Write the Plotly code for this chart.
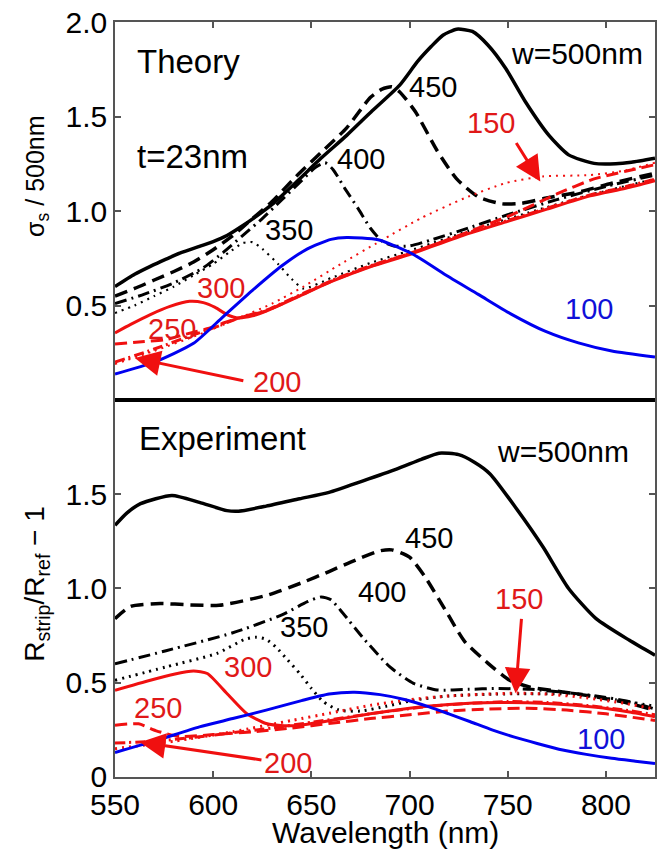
import plotly.graph_objects as go

# ---------------- Theory (top panel) ----------------
wl_t500 = [550, 560, 568, 576, 583, 593, 600, 607, 614, 621, 630, 642, 655, 668, 681, 695, 704, 711, 717, 724, 732, 740, 749, 759, 771, 781, 794, 805, 813, 825]
t500 = [0.60, 0.665, 0.707, 0.745, 0.777, 0.813, 0.838, 0.870, 0.915, 0.965, 1.035, 1.15, 1.28, 1.40, 1.53, 1.666, 1.79, 1.87, 1.93, 1.962, 1.950, 1.877, 1.754, 1.578, 1.40, 1.297, 1.252, 1.25, 1.258, 1.279]

wl_t450 = [550, 560, 570, 580, 590, 600, 610, 620, 630, 642, 655, 668, 680, 686, 691, 695, 703, 714, 724, 735, 747, 757, 769, 786, 803, 825]
t450 = [0.55, 0.59, 0.635, 0.68, 0.73, 0.795, 0.87, 0.96, 1.05, 1.18, 1.31, 1.44, 1.60, 1.645, 1.657, 1.63, 1.525, 1.32, 1.17, 1.075, 1.038, 1.041, 1.067, 1.10, 1.147, 1.20]

wl_t400 = [550, 565, 580, 595, 605, 615, 625, 635, 645, 652, 657, 661, 667, 674, 680, 686, 692, 700, 712, 730, 750, 775, 800, 825]
t400 = [0.51, 0.56, 0.62, 0.70, 0.78, 0.87, 0.96, 1.06, 1.16, 1.23, 1.255, 1.22, 1.12, 1.01, 0.91, 0.84, 0.815, 0.815, 0.85, 0.91, 0.98, 1.06, 1.13, 1.19]

wl_t350 = [550, 560, 570, 580, 590, 600, 608, 615, 620, 625, 633, 640, 646, 660, 680, 700, 730, 760, 790, 825]
t350 = [0.46, 0.50, 0.55, 0.60, 0.66, 0.72, 0.78, 0.83, 0.835, 0.80, 0.72, 0.64, 0.59, 0.645, 0.725, 0.79, 0.895, 0.99, 1.08, 1.17]

wl_t300 = [550, 558, 568, 578, 588, 595, 601, 607, 613, 620, 627, 644, 661, 680, 700, 727, 750, 770, 792, 810, 825]
t300 = [0.355, 0.40, 0.452, 0.495, 0.522, 0.515, 0.49, 0.452, 0.434, 0.445, 0.47, 0.55, 0.63, 0.705, 0.77, 0.87, 0.945, 1.01, 1.08, 1.12, 1.16]

wl_t250 = [550, 565, 576, 586, 598, 606, 613, 627, 644, 661, 680, 700, 725, 752, 775, 794, 810, 825]
t250 = [0.296, 0.31, 0.32, 0.348, 0.38, 0.41, 0.434, 0.472, 0.552, 0.632, 0.707, 0.775, 0.87, 0.98, 1.09, 1.17, 1.21, 1.245]

wl_t200 = [550, 570, 590, 605, 613, 627, 644, 661, 680, 700, 727, 750, 770, 792, 810, 825]
t200 = [0.20, 0.27, 0.345, 0.40, 0.434, 0.475, 0.555, 0.635, 0.71, 0.775, 0.875, 0.95, 1.015, 1.085, 1.128, 1.168]

wl_t150 = [550, 570, 590, 610, 630, 646, 665, 685, 706, 728, 749, 768, 792, 810, 825]
t150 = [0.19, 0.26, 0.335, 0.42, 0.51, 0.60, 0.72, 0.84, 0.963, 1.068, 1.148, 1.183, 1.19, 1.215, 1.255]

wl_t100 = [550, 570, 590, 605, 620, 635, 648, 660, 668, 684, 702, 718, 735, 752, 769, 786, 803, 825]
t100 = [0.137, 0.20, 0.30, 0.44, 0.58, 0.71, 0.80, 0.85, 0.86, 0.848, 0.77, 0.664, 0.559, 0.453, 0.364, 0.302, 0.259, 0.227]

# ---------------- Experiment (bottom panel) ----------------
wl_e500 = [550, 556, 563, 579, 593, 607, 613, 627, 644, 659, 676, 693, 706, 715, 725, 733, 741, 754, 768, 781, 795, 812, 825]
e500 = [1.335, 1.40, 1.45, 1.494, 1.457, 1.413, 1.41, 1.437, 1.476, 1.51, 1.57, 1.632, 1.685, 1.718, 1.71, 1.67, 1.608, 1.43, 1.22, 1.0, 0.84, 0.725, 0.646]

wl_e450 = [550, 558, 573, 588, 603, 627, 645, 659, 670, 685, 691, 700, 708, 718, 728, 740, 751, 761, 778, 795, 812, 825]
e450 = [0.84, 0.905, 0.92, 0.913, 0.911, 0.963, 1.03, 1.09, 1.14, 1.20, 1.205, 1.166, 1.06, 0.89, 0.72, 0.603, 0.513, 0.478, 0.451, 0.425, 0.39, 0.354]

wl_e400 = [550, 576, 610, 635, 648, 655, 660, 666, 676, 690, 702, 714, 730, 744, 762, 778, 795, 812, 825]
e400 = [0.60, 0.67, 0.765, 0.86, 0.93, 0.955, 0.94, 0.87, 0.742, 0.584, 0.497, 0.462, 0.465, 0.47, 0.465, 0.45, 0.43, 0.40, 0.36]

wl_e350 = [550, 576, 602, 616, 622, 627, 632, 638, 644, 650, 656, 664, 675, 688, 702, 720, 744, 780, 805, 825]
e350 = [0.513, 0.584, 0.656, 0.73, 0.742, 0.73, 0.689, 0.62, 0.55, 0.47, 0.40, 0.355, 0.35, 0.375, 0.407, 0.43, 0.44, 0.44, 0.41, 0.375]

wl_e300 = [550, 568, 580, 590, 597, 607, 617, 627, 636, 644, 660, 680, 700, 720, 745, 770, 795, 812, 825]
e300 = [0.46, 0.513, 0.545, 0.562, 0.549, 0.443, 0.337, 0.284, 0.272, 0.275, 0.30, 0.335, 0.365, 0.385, 0.395, 0.39, 0.37, 0.345, 0.32]

wl_e250 = [550, 562, 571, 583, 600, 620, 640, 660, 680, 700, 720, 740, 760, 780, 800, 825]
e250 = [0.275, 0.282, 0.245, 0.215, 0.225, 0.24, 0.26, 0.285, 0.31, 0.33, 0.35, 0.36, 0.365, 0.355, 0.335, 0.30]

wl_e200 = [550, 570, 590, 610, 630, 650, 670, 690, 710, 730, 750, 770, 790, 810, 825]
e200 = [0.18, 0.19, 0.21, 0.235, 0.26, 0.29, 0.32, 0.35, 0.375, 0.39, 0.40, 0.395, 0.38, 0.355, 0.33]

wl_e150 = [550, 580, 610, 640, 660, 680, 700, 720, 740, 755, 770, 790, 810, 825]
e150 = [0.15, 0.19, 0.24, 0.30, 0.34, 0.38, 0.41, 0.43, 0.44, 0.445, 0.44, 0.42, 0.39, 0.36]

wl_e100 = [550, 570, 593, 610, 627, 645, 659, 672, 685, 698, 710, 720, 731, 742, 753, 765, 778, 790, 803, 815, 825]
e100 = [0.13, 0.19, 0.266, 0.31, 0.355, 0.405, 0.44, 0.45, 0.437, 0.41, 0.372, 0.335, 0.293, 0.25, 0.213, 0.178, 0.143, 0.12, 0.099, 0.084, 0.072]

x_ticks = [550, 600, 650, 700, 750, 800]
top_ticks = [0.5, 1.0, 1.5, 2.0]
top_tick_text = ["0.5", "1.0", "1.5", "2.0"]
bot_ticks = [0, 0.5, 1.0, 1.5]
bot_tick_text = ["0", "0.5", "1.0", "1.5"]

BLACK = "#000000"
RED = "#f01010"
BLUE = "#0000f0"
RED_TXT = "#e01818"
BLUE_TXT = "#1010d8"
FONT = "Liberation Sans, Arial, Helvetica, sans-serif"
AXC = "#555555"

DASHED = "13px,7px"
DASHDOT = "12px,5px,2px,5px"
DOTTED = "2px,5px"
RDASH = "12px,6px"
RDASHDOT = "10px,4px,2px,4px"

fig = go.Figure()


def curve(x, y, panel, color, width, dash="solid"):
    xa, ya = ("x2", "y2") if panel == "top" else ("x", "y")
    fig.add_trace(go.Scatter(
        x=x, y=y, mode="lines", xaxis=xa, yaxis=ya, showlegend=False,
        hoverinfo="skip",
        line=dict(color=color, width=width, dash=dash, shape="spline", smoothing=0.6),
    ))


# top panel curves
curve(wl_t500, t500, "top", BLACK, 3.5)
curve(wl_t450, t450, "top", BLACK, 3.5, DASHED)
curve(wl_t400, t400, "top", BLACK, 3, DASHDOT)
curve(wl_t350, t350, "top", BLACK, 2.2, DOTTED)
curve(wl_t150, t150, "top", RED, 2, DOTTED)
curve(wl_t200, t200, "top", RED, 3, RDASHDOT)
curve(wl_t250, t250, "top", RED, 3, RDASH)
curve(wl_t300, t300, "top", RED, 3)
curve(wl_t100, t100, "top", BLUE, 3)

# bottom panel curves
curve(wl_e500, e500, "bot", BLACK, 3.5)
curve(wl_e450, e450, "bot", BLACK, 3.5, DASHED)
curve(wl_e400, e400, "bot", BLACK, 3, DASHDOT)
curve(wl_e350, e350, "bot", BLACK, 3, DOTTED)
curve(wl_e150, e150, "bot", RED, 3, DOTTED)
curve(wl_e200, e200, "bot", RED, 3, RDASHDOT)
curve(wl_e250, e250, "bot", RED, 3, RDASH)
curve(wl_e300, e300, "bot", RED, 3)
curve(wl_e100, e100, "bot", BLUE, 3)

SPLIT = (777 - 399) / 757.0

axis_common = dict(
    showgrid=False, zeroline=False, ticks="inside", ticklen=6, tickwidth=1.5,
    tickcolor=AXC, showline=True, linecolor=AXC, linewidth=1.5,
)

fig.update_layout(
    width=662, height=851,
    margin=dict(l=115, r=5, t=20, b=74),
    paper_bgcolor="white", plot_bgcolor="white",
    font=dict(family=FONT, color="black", size=30),
    xaxis=dict(axis_common, domain=[0, 1], anchor="y", range=[550, 825],
               tickvals=x_ticks, tickfont=dict(size=30), mirror=False),
    xaxis2=dict(axis_common, domain=[0, 1], anchor="y2", range=[550, 825],
                matches="x", side="top", tickvals=x_ticks, showticklabels=False,
                mirror=False),
    yaxis=dict(axis_common, domain=[0, SPLIT], anchor="x", range=[0, 2],
               tickvals=bot_ticks, ticktext=bot_tick_text, mirror="ticks",
               tickfont=dict(size=30)),
    yaxis2=dict(axis_common, domain=[SPLIT, 1], anchor="x2", range=[0, 2],
                tickvals=top_ticks, ticktext=top_tick_text, mirror="ticks",
                tickfont=dict(size=30)),
    showlegend=False,
)

# thick divider between the two panels
fig.add_shape(type="line", xref="paper", yref="paper", x0=0, x1=1,
              y0=SPLIT, y1=SPLIT, line=dict(color="black", width=4))


def label(text, x, y, panel, color=BLACK, size=29, xanchor="center"):
    fig.add_annotation(text=text, x=x, y=y, xref="x2" if panel == "top" else "x",
                       yref="y2" if panel == "top" else "y", showarrow=False,
                       font=dict(size=size, color=color, family=FONT),
                       xanchor=xanchor, yanchor="middle")


def arrow(x, y, ax, ay, panel):
    fig.add_annotation(text="", x=x, y=y, ax=ax, ay=ay,
                       xref="x2" if panel == "top" else "x",
                       yref="y2" if panel == "top" else "y",
                       showarrow=True, arrowhead=2, arrowsize=1.7,
                       arrowwidth=3, arrowcolor=RED)


# top panel text
label("Theory", 560, 1.79, "top", size=33, xanchor="left")
label("t=23nm", 560, 1.288, "top", size=33, xanchor="left")
label("w=500nm", 820, 1.834, "top", size=30, xanchor="right")
label("450", 711.8, 1.657, "top")
label("400", 675.3, 1.277, "top")
label("350", 638.8, 0.902, "top")
label("150", 741.3, 1.467, "top", RED_TXT)
label("300", 603.8, 0.591, "top", RED_TXT)
label("250", 578.9, 0.375, "top", RED_TXT)
label("200", 632.7, 0.095, "top", RED_TXT)
label("100", 791.5, 0.48, "top", BLUE_TXT)
arrow(560.1, 0.222, 110, 23, "top")
arrow(766.6, 1.156, -25, -40, "top")

# bottom panel text
label("Experiment", 561.2, 1.794, "bot", size=33, xanchor="left")
label("w=500nm", 812.8, 1.725, "bot", size=30, xanchor="right")
label("450", 709.8, 1.27, "bot")
label("400", 686, 0.979, "bot")
label("350", 646.4, 0.794, "bot")
label("150", 755.5, 0.942, "bot", RED_TXT)
label("300", 617.5, 0.582, "bot", RED_TXT)
label("250", 571.8, 0.365, "bot", RED_TXT)
label("200", 638.3, 0.074, "bot", RED_TXT)
label("100", 797.6, 0.201, "bot", BLUE_TXT)
arrow(562.7, 0.185, 123, 18, "bot")
arrow(754, 0.444, 6, -76, "bot")

# axis titles
fig.add_annotation(text="Wavelength (nm)", xref="paper", yref="paper",
                   x=0.501, y=(777 - 833) / 757.0, showarrow=False,
                   font=dict(size=30, family=FONT), xanchor="center", yanchor="middle")
fig.add_annotation(text="σ<sub>s</sub> / 500nm", xref="paper", yref="paper",
                   x=(36 - 115) / 542.0, y=(777 - 175) / 757.0, textangle=-90,
                   showarrow=False, font=dict(size=25, family=FONT),
                   xanchor="center", yanchor="middle")
fig.add_annotation(text="R<sub>strip</sub>/R<sub>ref</sub> − 1", xref="paper", yref="paper",
                   x=(36 - 115) / 542.0, y=(777 - 583) / 757.0, textangle=-90,
                   showarrow=False, font=dict(size=28, family=FONT),
                   xanchor="center", yanchor="middle")

fig.write_html("out.html")
